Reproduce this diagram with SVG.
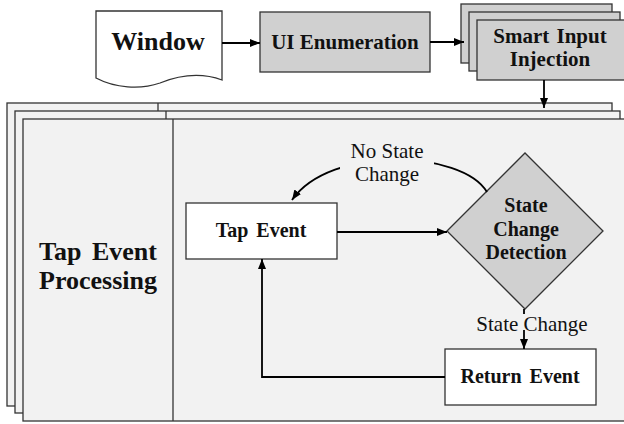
<svg xmlns="http://www.w3.org/2000/svg" width="624" height="424" viewBox="0 0 624 424">
<style>
.box{stroke:#333;stroke-width:1.3}
.panel{fill:#f2f2f2;stroke:#333;stroke-width:1.3}
.gray{fill:#d0d0d0}
.white{fill:#fff}
.b{font-family:"Liberation Serif","Times New Roman",serif;font-weight:bold;text-anchor:middle;fill:#111}
.n{font-family:"Liberation Serif","Times New Roman",serif;text-anchor:middle;fill:#111;font-size:21px}
.con{fill:none;stroke:#000;stroke-width:1.8}
</style>
<defs>
<marker id="ah" markerWidth="10" markerHeight="8" refX="10" refY="4" orient="auto" markerUnits="userSpaceOnUse">
<path d="M0,0 L10,4 L0,8 Z" fill="#000"/>
</marker>
</defs>
<rect width="624" height="424" fill="#fff"/>
<g id="panel">
<rect class="panel" x="7" y="103" width="605" height="303"/>
<line class="box" x1="158" y1="103" x2="158" y2="111"/>
<rect class="panel" x="15" y="111" width="605" height="302"/>
<line class="box" x1="166" y1="111" x2="166" y2="119"/>
<rect class="panel" x="23" y="119" width="610" height="302"/>
<line class="box" x1="173" y1="119" x2="173" y2="421"/>
<text class="b" font-size="26" x="98" y="260" word-spacing="4">Tap Event</text>
<text class="b" font-size="26" x="98" y="289">Processing</text>
</g>
<g id="window">
<path class="box white" d="M96,11 H222 V80 C200,72 180,75 160,83 C140,90 115,88 96,78 Z"/>
<text class="b" font-size="26" x="158" y="50">Window</text>
</g>
<g id="ui-enum">
<rect class="box gray" x="260" y="12" width="170" height="60"/>
<text class="b" font-size="21" x="345" y="49">UI Enumeration</text>
</g>
<g id="smart-input">
<rect class="box gray" x="461" y="4" width="151" height="59"/>
<rect class="box gray" x="469" y="12" width="151" height="59"/>
<rect class="box gray" x="477" y="20" width="160" height="60"/>
<text class="b" font-size="21" x="550" y="43" word-spacing="2">Smart Input</text>
<text class="b" font-size="21" x="550" y="66">Injection</text>
</g>
<g id="tap-event">
<rect class="box white" x="186" y="203" width="151" height="56"/>
<text class="b" font-size="20" x="261" y="237" word-spacing="3">Tap Event</text>
</g>
<g id="state-change">
<polygon class="box gray" points="447,231 525,153 603,231 525,309"/>
<text class="b" font-size="20" x="526" y="212">State</text>
<text class="b" font-size="20" x="526" y="236">Change</text>
<text class="b" font-size="20" x="526" y="259">Detection</text>
</g>
<g id="return-event">
<rect class="box white" x="445" y="349" width="151" height="56"/>
<text class="b" font-size="20" x="520" y="383" word-spacing="3">Return Event</text>
</g>
<g id="connectors">
<line class="con" x1="222" y1="43" x2="260" y2="43" marker-end="url(#ah)"/>
<line class="con" x1="430" y1="42" x2="464" y2="42" marker-end="url(#ah)"/>
<line class="con" x1="544" y1="80" x2="544" y2="108" marker-end="url(#ah)"/>
<line class="con" x1="337" y1="232" x2="447" y2="232" marker-end="url(#ah)"/>
<polyline class="con" points="445,377 262,377 262,259" marker-end="url(#ah)"/>
<path class="con" d="M487,192 C462,150 330,145 292,200" marker-end="url(#ah)"/>
<rect x="340" y="140" width="94" height="45" fill="#f2f2f2"/>
<line class="con" x1="524" y1="309" x2="524" y2="314"/>
<line class="con" x1="524" y1="330" x2="524" y2="349" marker-end="url(#ah)"/>
<text class="n" x="387" y="158">No State</text>
<text class="n" x="387" y="181">Change</text>
<text class="n" x="532" y="331">State Change</text>
</g>
</svg>
